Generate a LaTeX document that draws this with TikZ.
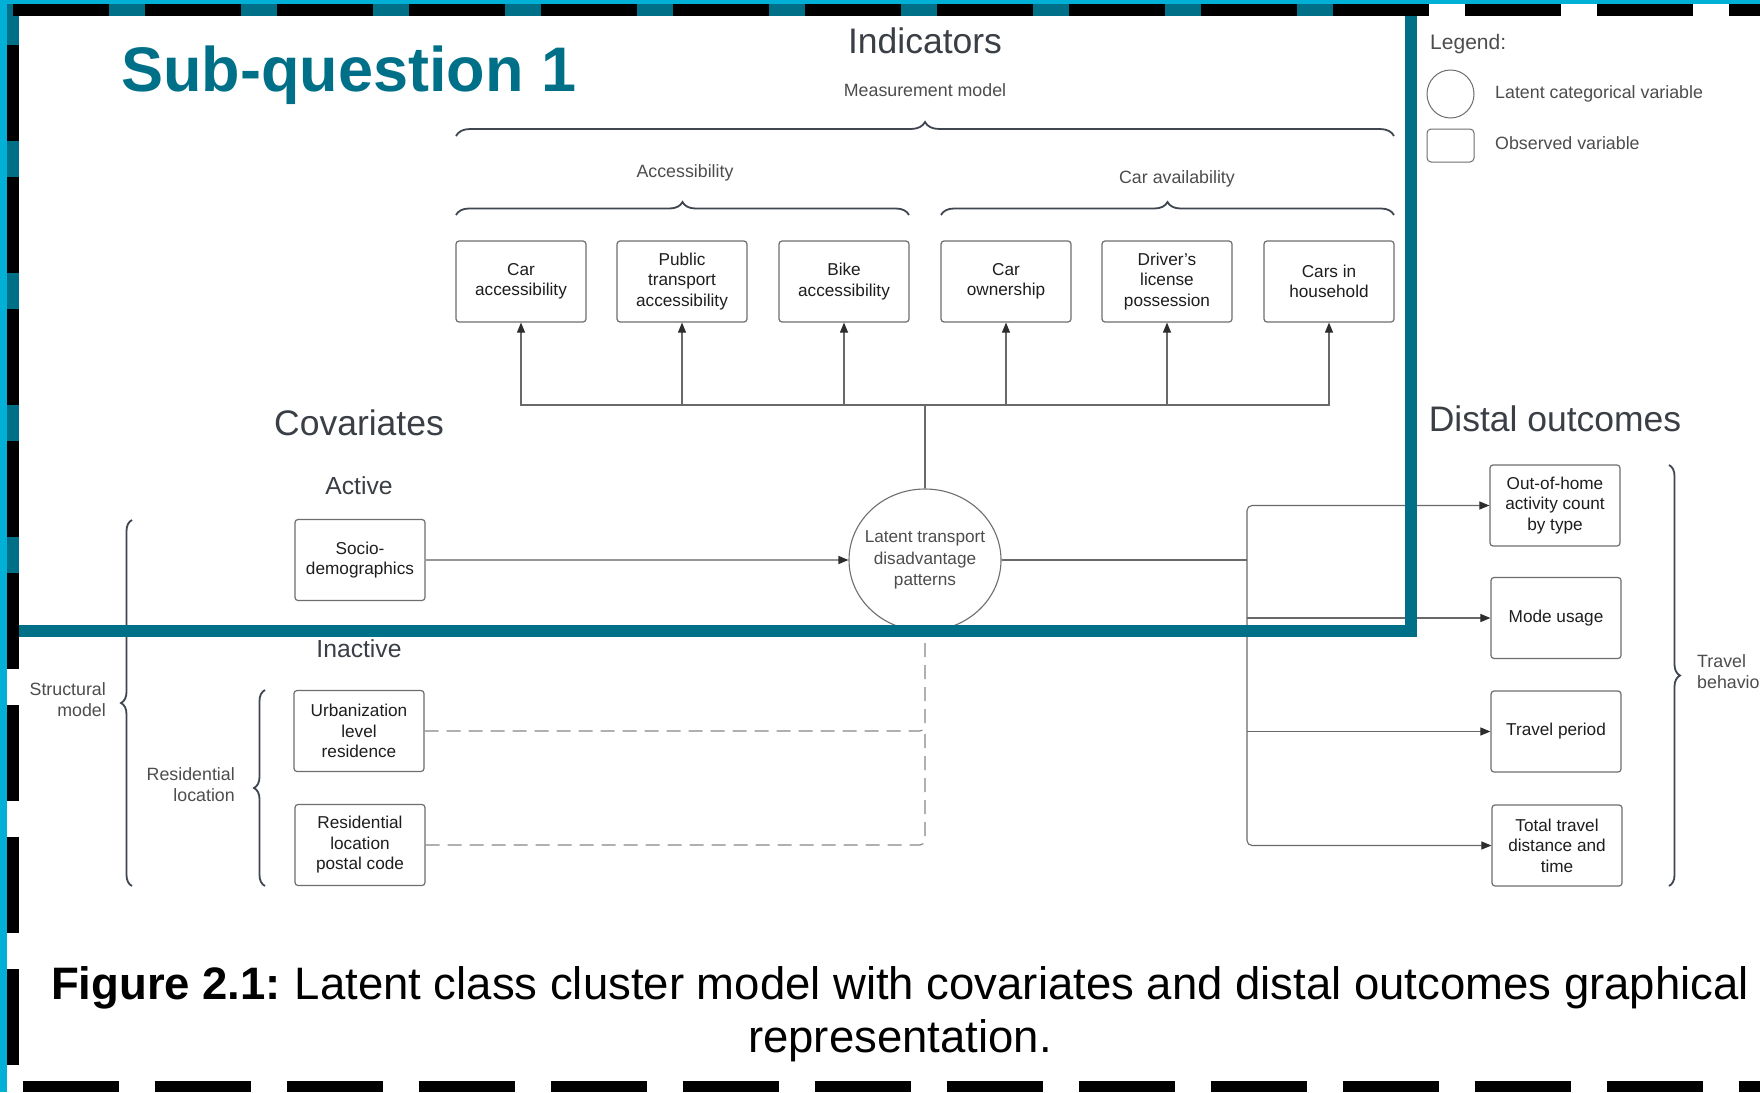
\documentclass[tikz,border=0pt]{standalone}
\usepackage{fontspec}
\setmainfont{Liberation Sans}
\usetikzlibrary{arrows.meta,shapes.geometric,decorations.pathreplacing}
\definecolor{teal1}{RGB}{0,112,136}
\definecolor{cyan1}{RGB}{0,176,214}
\definecolor{headc}{RGB}{58,63,70}
\definecolor{labc}{RGB}{77,77,77}
\definecolor{boxtc}{RGB}{30,30,30}
\definecolor{boxc}{RGB}{110,110,110}
\definecolor{linec}{RGB}{105,105,105}
\definecolor{bracec}{RGB}{63,70,80}
\definecolor{tipc}{RGB}{45,45,45}
\tikzset{
 varbox/.style={draw=boxc, line width=1.2pt, rounded corners=3pt, minimum width=130pt, minimum height=81pt, inner sep=2pt, align=center, text=boxtc, font=\fontsize{17.2}{20.5}\selectfont},
 lbl/.style={text=labc, font=\fontsize{17.8}{21}\selectfont, inner sep=0pt},
 head/.style={text=headc, font=\fontsize{35.5}{40}\selectfont, inner sep=0pt},
 subhead/.style={text=headc, font=\fontsize{24.7}{28}\selectfont, inner sep=0pt},
 conn/.style={draw=linec, line width=1.1pt},
 arr/.style={conn, -{Triangle[length=10pt,width=8pt,color=tipc]}},
 dconn/.style={conn, dash pattern=on 14pt off 8pt, rounded corners=5pt},
 brc/.style={draw=bracec, line width=1.8pt, decorate, decoration={brace, amplitude=#1}},
 brc/.default=13pt,
}
\begin{document}
\begin{tikzpicture}[x=1pt,y=-1pt]
\useasboundingbox (0,0) rectangle (1760,1092);
\clip (0,0) rectangle (1760,1092);
\fill[white] (0,0) rectangle (1760,1092);

% title
\node[anchor=base west, text=teal1, font=\fontsize{63}{70}\selectfont\bfseries, inner sep=0pt] (title) at (121,91) {Sub-question 1};

% indicators
\node[head, anchor=base] (indh) at (925,53.5) {Indicators};
\node[lbl, anchor=base] (mm) at (925,96) {Measurement model};
\draw[brc=14pt] (456,136) -- (1394,136);
\node[lbl, anchor=base] (acc) at (685,177) {Accessibility};
\draw[brc] (456,215) -- (909,215);
\node[lbl, anchor=base] (cav) at (1177,183) {Car availability};
\draw[brc] (941,215) -- (1394,215);

\node[varbox] (i1) at (521,281.5) {Car\\accessibility};
\node[varbox] (i2) at (682,281.5) {Public\\transport\\accessibility};
\node[varbox] (i3) at (844,281.5) {Bike\\accessibility};
\node[varbox] (i4) at (1006,281.5) {Car\\ownership};
\node[varbox] (i5) at (1167,281.5) {Driver's\\license\\possession};
\node[varbox] (i6) at (1329,281.5) {Cars in\\household};

% latent
\node[ellipse, draw=boxc, line width=1.1pt, minimum width=152pt, minimum height=142pt, inner sep=0pt] (lat) at (925,560) {};
\node[align=center, text=labc, font=\fontsize{17.2}{21.5}\selectfont, inner sep=0pt] (latt) at (lat.center) {Latent transport\\disadvantage\\patterns};

\coordinate (bus) at (925,405);
\draw[conn] (lat.north) -- (bus);
\draw[arr] (bus) -| (i1.south);
\draw[arr] (bus) -| (i6.south);
\foreach \n in {i2,i3,i4,i5} \draw[arr] (\n.south |- bus) -- (\n.south);

% covariates
\node[head, anchor=base] (cov) at (359,435.5) {Covariates};
\node[subhead, anchor=base] (act) at (359,494) {Active};
\node[varbox] (soc) at (360,560) {Socio-\\demographics};
\node[subhead, anchor=base] (inact) at (359,657) {Inactive};
\node[varbox] (urb) at (359,731) {Urbanization\\level\\residence};
\node[varbox] (res) at (360,845) {Residential\\location\\postal code};
\draw[arr, draw=linec!70] (soc.east) -- (lat.west);
\draw[dconn, draw=linec!80] (urb.east) -| (lat.south);
\draw[dconn, draw=linec!80] (res.east) -| (urb.east -| lat.south);

\draw[brc=11pt] (132,886) -- (132,520);
\node[lbl, align=right, anchor=east] (sm) at (106,700) {Structural\\model};
\draw[brc=11pt] (265,886) -- (265,690);
\node[lbl, align=right, anchor=east] (rl) at (235,785) {Residential\\location};

% distal outcomes
\node[head, anchor=base] (dist) at (1555,431.5) {Distal outcomes};
\node[varbox] (o1) at (1555,505.5) {Out-of-home\\activity count\\by type};
\node[varbox] (o2) at (1556,618) {Mode usage};
\node[varbox] (o3) at (1556,731.5) {Travel period};
\node[varbox] (o4) at (1557,845.5) {Total travel\\distance and\\time};
\coordinate (j) at (1247,560);
\draw[conn] (lat.east) -- (j);
\draw[arr, rounded corners=5pt] (j) |- (o1.west);
\draw[arr, rounded corners=5pt] (j) |- (o4.west);
\draw[arr] (j |- o2.west) -- (o2.west);
\draw[arr] (j |- o3.west) -- (o3.west);
\draw[brc=11pt] (1669,465) -- (1669,886);
\node[lbl, align=left, anchor=west] (tb) at (1697,672) {Travel\\behaviour};

% legend
\node[text=labc, font=\fontsize{21}{24}\selectfont, anchor=base west, inner sep=0pt] (leg) at (1430,49.5) {Legend:};
\node[ellipse, draw=boxc, line width=1pt, minimum width=47pt, minimum height=48pt, inner sep=0pt] (lc) at (1450.5,94) {};
\node[lbl, anchor=base west] (lct) at (1495,98.5) {Latent categorical variable};
\node[draw=boxc, line width=1pt, rounded corners=4pt, minimum width=47pt, minimum height=33pt, inner sep=0pt] (lr) at (1450.5,145.5) {};
\node[lbl, anchor=base west] (lrt) at (1495,149.5) {Observed variable};

% caption
\node[anchor=base, font=\fontsize{45.5}{50}\selectfont, inner sep=0pt] (cap1) at (900,999) {\textbf{Figure 2.1:}\hspace{0.3em}Latent class cluster model with covariates and distal outcomes graphical};
\node[anchor=base, font=\fontsize{45.5}{50}\selectfont, inner sep=0pt] (cap2) at (900,1052) {representation.};

% frame and borders
\draw[teal1, line width=12pt] (13,10) rectangle (1411,631);
\fill[cyan1] (0,0) rectangle (7,1092);
\fill[cyan1] (0,0) rectangle (1760,4);
\draw[black, line width=12pt, dash pattern=on 96pt off 36pt] (13,10) -- (1760,10);
\draw[black, line width=12pt, dash pattern=on 96pt off 36pt] (13,45) -- (13,1092);
\draw[black, line width=11pt, dash pattern=on 96pt off 36pt] (23,1086) -- (1760,1086);
\end{tikzpicture}
\end{document}
